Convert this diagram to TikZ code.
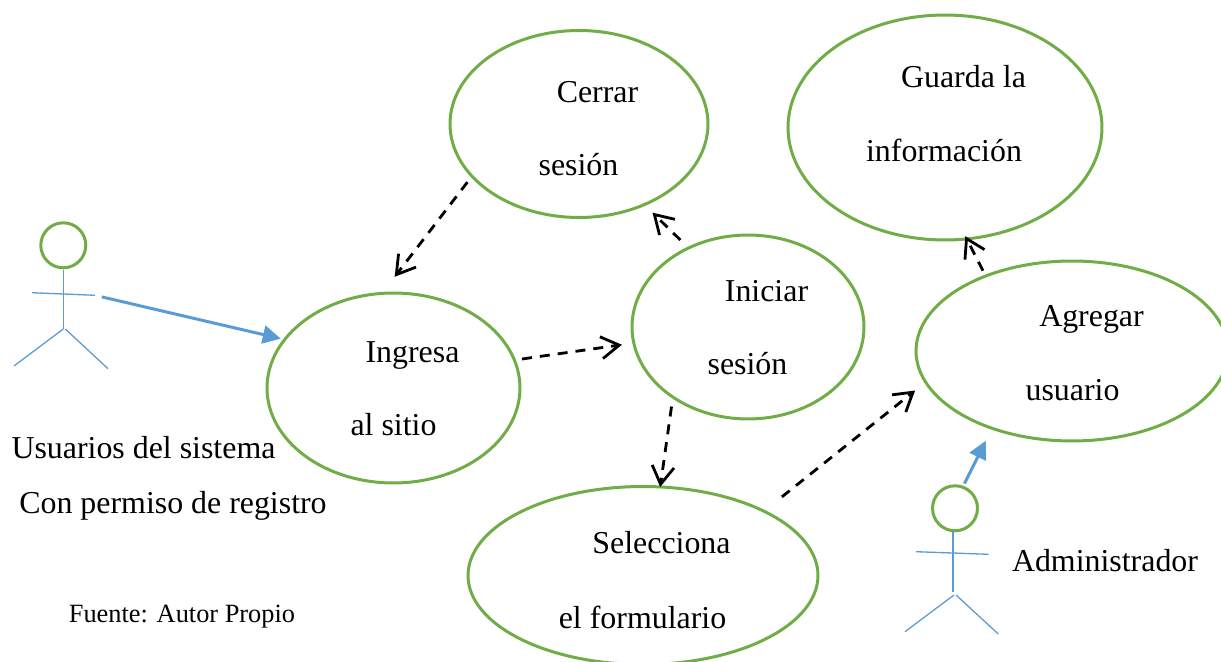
\documentclass[tikz,border=0pt]{standalone}
\usepackage{fontspec}
\setmainfont{Liberation Serif}
\usetikzlibrary{shapes.geometric,arrows.meta}
\definecolor{casegreen}{HTML}{70AD47}
\definecolor{actorblue}{HTML}{5B9BD5}
\tikzset{
  usecase/.style={ellipse,draw=casegreen,line width=.06cm,inner sep=0,outer sep=0},
  head/.style={circle,draw=casegreen,line width=.06cm,inner sep=0,outer sep=0,minimum size=.9cm},
  limb/.style={draw=actorblue,line width=.026cm},
  txt/.style={anchor=base,inner sep=0,font=\fontsize{18.15}{20}\selectfont},
  depend/.style={black,line width=.056cm,dash pattern=on .2cm off .16cm,
    -{Straight Barb[length=.36cm,width=.44cm,line width=.056cm]}},
  assoc/.style={actorblue,line width=.06cm,-{Triangle[length=.36cm,width=.36cm]}}
}
\begin{document}
\begin{tikzpicture}
  [x=.02cm,y=-.02cm]
  \useasboundingbox (0,0) rectangle (1221,662);

  \node[usecase,minimum width=5.16cm,minimum height=3.74cm] (cerrar) at (579,124) {};
  \node[usecase,minimum width=6.28cm,minimum height=4.5cm] (guarda) at (945,127.5) {};
  \node[usecase,minimum width=5.06cm,minimum height=3.8cm] (ingresa) at (393.5,388) {};
  \node[usecase,minimum width=4.64cm,minimum height=3.68cm] (iniciar) at (748,327) {};
  \node[usecase,minimum width=6.24cm,minimum height=3.6cm] (agregar) at (1072,351) {};
  \node[usecase,minimum width=7cm,minimum height=3.56cm] (selecciona) at (643,575.5) {};

  \node[txt] (cerrarA) at (597.5,103) {Cerrar};
  \node[txt] (cerrarB) at (578.5,176) {sesión};
  \node[txt] (guardaA) at (963.5,88) {Guarda la};
  \node[txt] (guardaB) at (944,162) {información};
  \node[txt] (ingresaA) at (412.5,362) {Ingresa};
  \node[txt] (ingresaB) at (393.5,435) {al sitio};
  \node[txt] (iniciarA) at (766.5,302) {Iniciar};
  \node[txt] (iniciarB) at (747.5,375) {sesión};
  \node[txt] (agregarA) at (1091.5,327) {Agregar};
  \node[txt] (agregarB) at (1072.5,400) {usuario};
  \node[txt] (seleccionaA) at (661.5,553) {Selecciona};
  \node[txt] (seleccionaB) at (642.5,628) {el formulario};
  \node[txt] (usuariosA) at (143.5,458) {Usuarios del sistema};
  \node[txt] (usuariosB) at (173,513) {Con permiso de registro};
  \node[txt] (admin) at (1105,571) {Administrador};
  \node[txt,font=\fontsize{15}{18}\selectfont] (fuente) at (182,622) {Fuente: Autor Propio};

  % actors
  \node[head] (headA) at (63.3,245.3) {};
  \coordinate (handA) at (95,295.3);
  \draw[limb] (63.3,270) -- (63.3,329);
  \draw[limb] (32,292.7) -- (handA);
  \draw[limb] (63.3,329) -- (14,366);
  \draw[limb] (65.3,329) -- (108,368.7);

  \node[head] (headB) at (955,508.3) {};
  \draw[limb] (953,531.7) -- (953,591.7);
  \draw[limb] (916,551.7) -- (988.7,554.3);
  \draw[limb] (954,595) -- (905,631.7);
  \draw[limb] (956,595) -- (998.3,634);

  \draw[assoc,shorten <=.14cm,shorten >=.08cm] (handA) -- (ingresa.156.4);
  \draw[assoc,shorten <=.08cm,shorten >=.28cm] (headB.70.9) -- (agregar.224.4);

  \foreach \from/\to/\a/\b in {cerrar.206.4/ingresa.97.6/7.5/21,
    iniciar.127.2/cerrar.309.2/11.5/11.5,
    ingresa.13.5/iniciar.188.1/7.7/12,
    iniciar.223.4/selecciona.79.2/9.6/0,
    selecciona.28/agregar.192.7/23/13.5,
    agregar.139.6/guarda.281/6/-3}
    \draw[depend,shorten <=\a*.02cm,shorten >=\b*.02cm] (\from) -- (\to);

\end{tikzpicture}
\end{document}
